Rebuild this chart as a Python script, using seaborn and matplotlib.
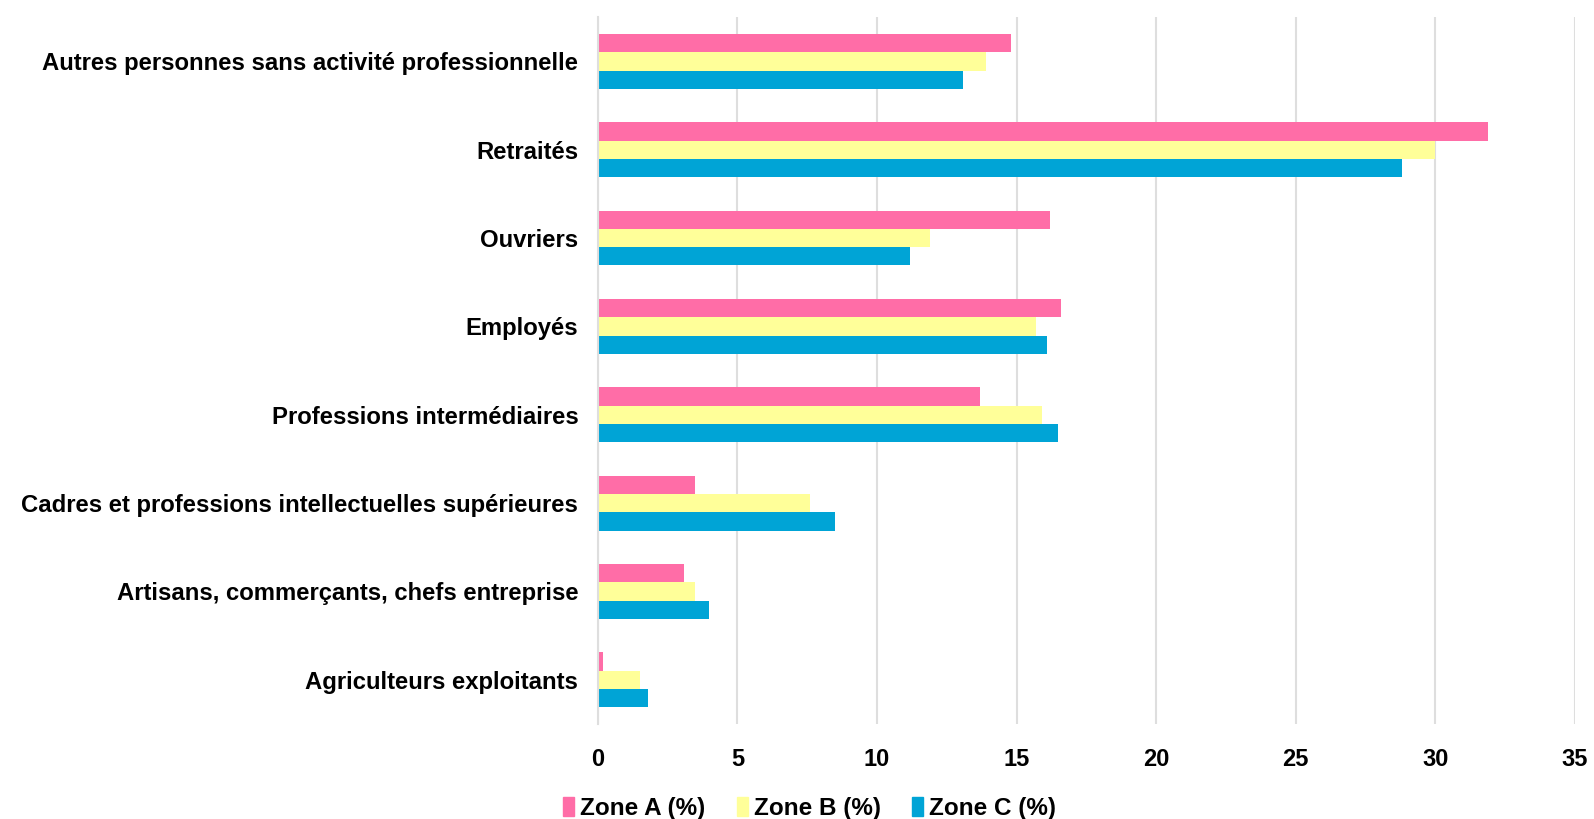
import pandas as pd
import matplotlib
matplotlib.use("Agg")
import matplotlib.pyplot as plt
import seaborn as sns

# données
categories = [
    "Autres personnes sans activité professionnelle",
    "Retraités",
    "Ouvriers",
    "Employés",
    "Professions intermédiaires",
    "Cadres et professions intellectuelles supérieures",
    "Artisans, commerçants, chefs entreprise",
    "Agriculteurs exploitants",
]
zones = ["Zone A (%)", "Zone B (%)", "Zone C (%)"]
zone_a = [14.8, 31.9, 16.2, 16.6, 13.7, 3.5, 3.1, 0.2]
zone_b = [13.9, 30.0, 11.9, 15.7, 15.9, 7.6, 3.5, 1.5]
zone_c = [13.1, 28.8, 11.2, 16.1, 16.5, 8.5, 4.0, 1.8]
xticks = [0, 5, 10, 15, 20, 25, 30, 35]
couleurs = ["#FF6DA7", "#FFFF99", "#00A4D6"]

df = pd.DataFrame({
    "categorie": categories * 3,
    "zone": [zones[0]] * 8 + [zones[1]] * 8 + [zones[2]] * 8,
    "valeur": zone_a + zone_b + zone_c,
})

sns.set_style("white")
plt.rcParams["font.family"] = ["Liberation Sans", "DejaVu Sans"]
plt.rcParams["text.color"] = "black"
plt.rcParams["xtick.color"] = "black"
plt.rcParams["ytick.color"] = "black"

fig = plt.figure(figsize=(15.94, 8.19), dpi=100)
ax = fig.add_axes([0.375, 0.116, 0.613, 0.863])

sns.barplot(data=df, x="valeur", y="categorie", hue="zone", order=categories,
            hue_order=zones, palette=couleurs, saturation=1, width=0.62, gap=0,
            orient="h", ax=ax, legend=False, edgecolor="none")

ax.set_xlim(0, 35)
ax.set_xticks(xticks)
ax.set_xticklabels([str(t) for t in xticks], fontsize=17, fontweight="bold")
ax.set_yticks(range(len(categories)))
ax.set_yticklabels(categories, fontsize=17.2, fontweight="bold")
ax.set_xlabel("")
ax.set_ylabel("")
ax.grid(axis="x", color="#DEDEDE", linewidth=1.5)
ax.set_axisbelow(True)
for s in ["top", "right", "bottom"]:
    ax.spines[s].set_visible(False)
ax.spines["left"].set_color("#DEDEDE")
ax.spines["left"].set_linewidth(1.5)
ax.tick_params(axis="x", length=6, color="#DEDEDE", width=1.5, pad=11,
               labelcolor="black")
ax.tick_params(axis="y", length=0, pad=14, labelcolor="black")

handles = [plt.Rectangle((0, 0), 1, 1, color=c) for c in couleurs]
fig.legend(handles, zones, loc="lower center", bbox_to_anchor=(0.508, -0.028),
           ncol=3, frameon=False, handlelength=0.45, handleheight=0.8,
           handletextpad=0.25, columnspacing=1.3,
           prop={"size": 17.5, "weight": "bold"})

fig.savefig("out.png", dpi=100)
